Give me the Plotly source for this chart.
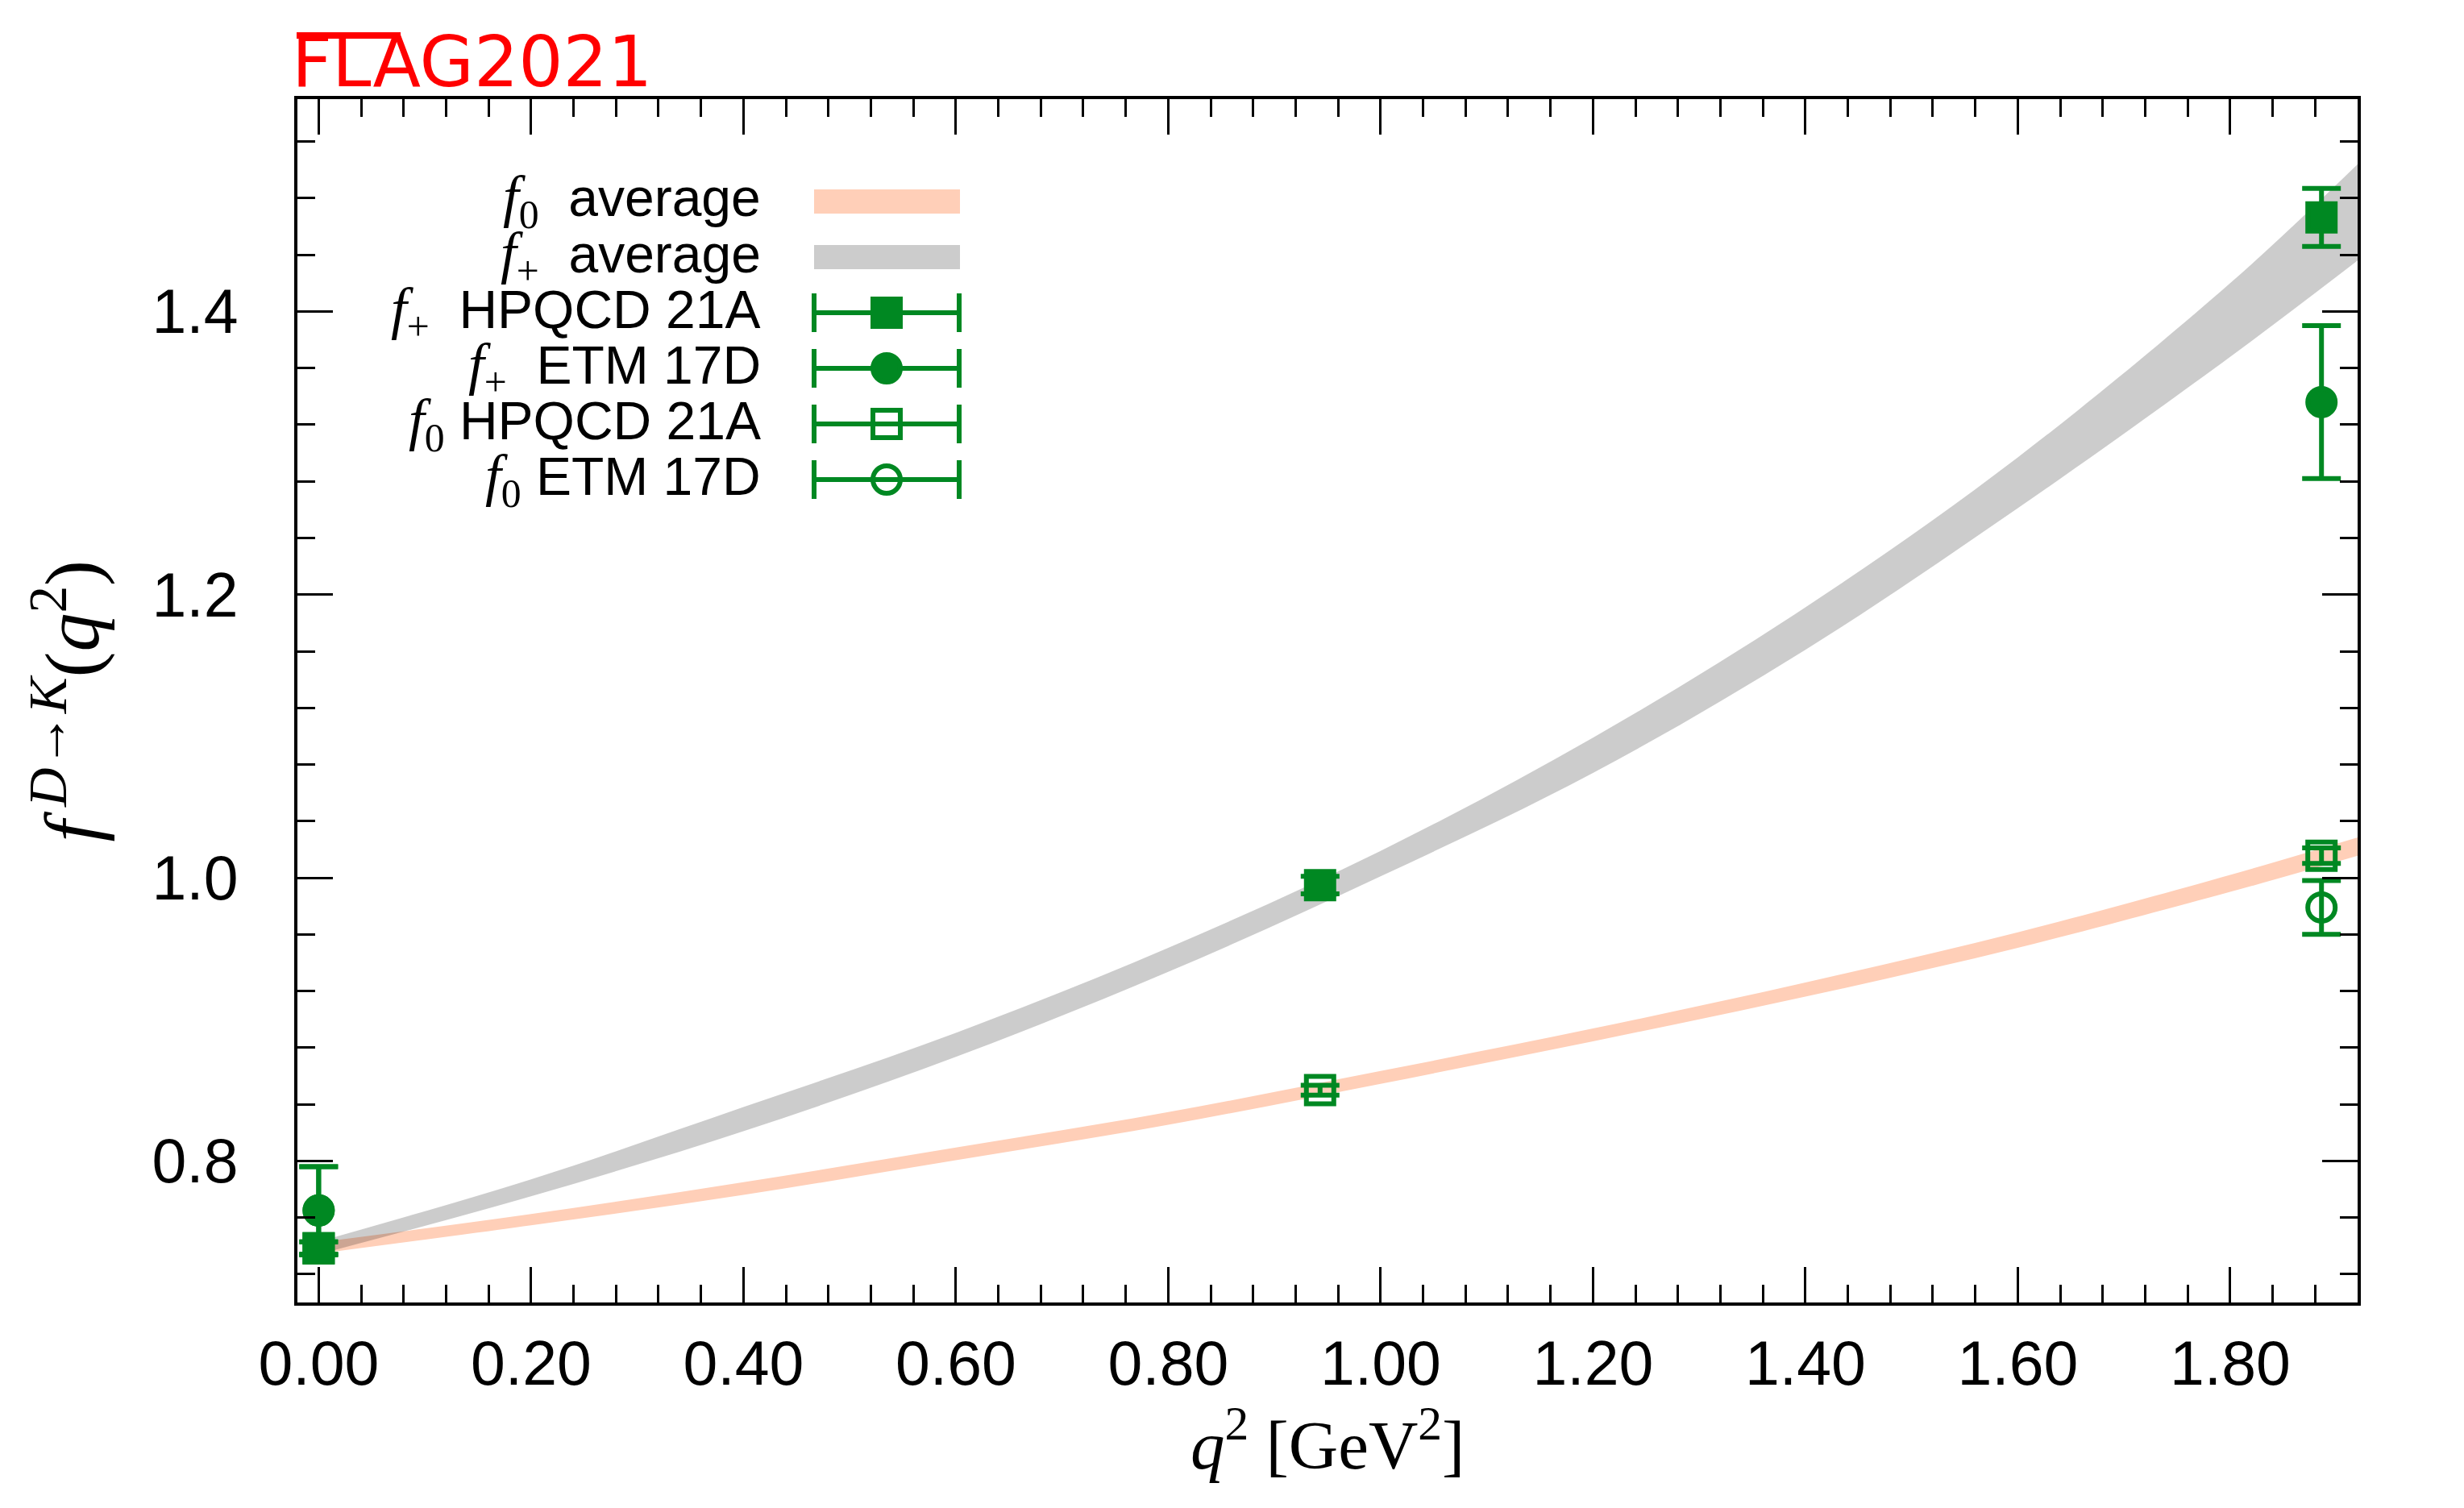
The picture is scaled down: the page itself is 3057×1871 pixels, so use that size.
import plotly.graph_objects as go

# ---------------- data ----------------
q2_band = [0.0, 0.2, 0.4, 0.6, 0.8, 1.0, 1.2, 1.4, 1.6, 1.8, 1.92]
fplus_avg_lo = [0.734, 0.775, 0.821, 0.8735, 0.9335, 1.001, 1.074, 1.161, 1.261, 1.368, 1.436]
fplus_avg_hi = [0.743, 0.787, 0.838, 0.8905, 0.9505, 1.019, 1.099, 1.191, 1.297, 1.420, 1.504]
f0_avg_lo = [0.7345, 0.7545, 0.776, 0.8005, 0.8255, 0.8545, 0.8845, 0.916, 0.9505, 0.990, 1.0155]
f0_avg_hi = [0.7425, 0.7625, 0.785, 0.8095, 0.8345, 0.8635, 0.8935, 0.926, 0.9615, 1.002, 1.0285]

q2_hpqcd = [0.0, 0.943, 1.886]
fplus_hpqcd = [0.7383, 0.9948, 1.4665]
fplus_hpqcd_err = [0.0045, 0.0062, 0.0205]
f0_hpqcd = [0.7383, 0.8500, 1.0156]
f0_hpqcd_err = [0.0045, 0.0035, 0.0055]

q2_etm = [0.0, 1.886]
fplus_etm = [0.765, 1.336]
fplus_etm_err = [0.031, 0.054]
f0_etm = [0.765, 0.979]
f0_etm_err = [0.031, 0.019]

SERIF_SPAN = "<span style=\"font-family:'Liberation Serif';font-size:71px\">"
legend_labels = [
    SERIF_SPAN + "<i>f</i><sub>0</sub></span>&nbsp; average",
    SERIF_SPAN + "<i>f</i><sub>+</sub></span>&nbsp; average",
    SERIF_SPAN + "<i>f</i><sub>+</sub></span>&nbsp; HPQCD 21A",
    SERIF_SPAN + "<i>f</i><sub>+</sub></span>&nbsp; ETM 17D",
    SERIF_SPAN + "<i>f</i><sub>0</sub></span>&nbsp;HPQCD 21A",
    SERIF_SPAN + "<i>f</i><sub>0</sub></span>&nbsp;ETM 17D",
]

# ---------------- styles / geometry ----------------
GREEN = "#008822"
SALMON = "#FFCFB8"
GREY = "rgba(0,0,0,0.2)"
OFF = 8                       # page body margin
W, H = 3057 - OFF, 1871 - OFF
# plot frame in screen pixels: left 369, right 2925, top 123, bottom 1616
L, T = 369 - OFF, 123 - OFF
R, B = W - (2925 - OFF), H - (1616 - OFF)
PW, PH = W - L - R, H - T - B


def px2x(px):   # screen px -> paper x
    return (px - OFF - L) / PW


def px2y(py):   # screen px -> paper y
    return 1 - (py - OFF - T) / PH


fig = go.Figure()

# bands
fig.add_trace(go.Scatter(x=q2_band, y=f0_avg_lo, mode="lines", line=dict(width=0, shape="spline"),
                         showlegend=False, hoverinfo="skip"))
fig.add_trace(go.Scatter(x=q2_band, y=f0_avg_hi, mode="lines", line=dict(width=0, shape="spline"),
                         fill="tonexty", fillcolor=SALMON, showlegend=False, hoverinfo="skip"))
fig.add_trace(go.Scatter(x=q2_band, y=fplus_avg_lo, mode="lines", line=dict(width=0, shape="spline"),
                         showlegend=False, hoverinfo="skip"))
fig.add_trace(go.Scatter(x=q2_band, y=fplus_avg_hi, mode="lines", line=dict(width=0, shape="spline"),
                         fill="tonexty", fillcolor=GREY, showlegend=False, hoverinfo="skip"))


def pts(x, y, err, symbol, size):
    return go.Scatter(
        x=x, y=y, mode="markers", showlegend=False,
        marker=dict(symbol=symbol, size=size, color=GREEN, line=dict(color=GREEN, width=6)),
        error_y=dict(type="data", array=err, color=GREEN, thickness=6, width=24),
    )


fig.add_trace(pts(q2_etm, f0_etm, f0_etm_err, "circle-open", 34))
fig.add_trace(pts(q2_hpqcd, f0_hpqcd, f0_hpqcd_err, "square-open", 34))
fig.add_trace(pts(q2_etm, fplus_etm, fplus_etm_err, "circle", 34))
fig.add_trace(pts(q2_hpqcd, fplus_hpqcd, fplus_hpqcd_err, "square", 34))

# ---------------- legend (manual: text left of keys, gnuplot style) ----------------
row_y = [250 + 69 * i for i in range(6)]
key_x0, key_x1, key_xc = px2x(1010), px2x(1191), px2x(1100)
text_x = px2x(946)

annotations = []
for lab, ry in zip(legend_labels, row_y):
    annotations.append(dict(x=text_x, y=px2y(ry), xref="paper", yref="paper", text=lab,
                            showarrow=False, xanchor="right", yanchor="middle",
                            font=dict(family="Liberation Sans", size=66, color="black")))

shapes = []
for ry, col in zip(row_y[:2], [SALMON, GREY]):
    shapes.append(dict(type="rect", xref="paper", yref="paper", x0=key_x0, x1=key_x1,
                       y0=px2y(ry + 15), y1=px2y(ry - 15), fillcolor=col, line=dict(width=0)))

key_syms = ["square", "circle", "square-open", "circle-open"]
for sym, ry in zip(key_syms, row_y[2:]):
    fig.add_trace(go.Scatter(
        x=[key_xc], y=[px2y(ry)], xaxis="x2", yaxis="y2", mode="markers", showlegend=False,
        marker=dict(symbol=sym, size=34, color=GREEN, line=dict(color=GREEN, width=6)),
        error_x=dict(type="constant", value=key_xc - key_x0, color=GREEN, thickness=6, width=24),
        hoverinfo="skip"))

# title FLAG2021 with overline on FLA
annotations.append(dict(x=0, y=1, xref="paper", yref="paper", text="FLAG2021", showarrow=False,
                        xanchor="left", yanchor="middle", xshift=-9, yshift=46,
                        font=dict(family="DejaVu Sans", size=87, color="#FF0000")))
shapes.append(dict(type="line", xref="paper", yref="paper", x0=px2x(368), x1=px2x(497),
                   y0=px2y(44), y1=px2y(44), line=dict(color="#FF0000", width=8)))

# axis titles
annotations.append(dict(x=0, y=0.5, xref="paper", yref="paper", showarrow=False,
                        text="<i>f</i><sup> <i>D</i>→<i>K</i></sup>(<i>q</i><sup>2</sup>)",
                        textangle=-90, xanchor="center", yanchor="middle", xshift=-(369 - 82),
                        font=dict(family="Liberation Serif", size=96, color="black")))
annotations.append(dict(x=0.5, y=0, xref="paper", yref="paper", showarrow=False,
                        text="<i>q</i><sup>2</sup> [GeV<sup>2</sup>]",
                        xanchor="center", yanchor="middle", yshift=-170,
                        font=dict(family="Liberation Serif", size=85, color="black")))

axis_common = dict(
    showline=True, linewidth=4, linecolor="black", mirror="allticks",
    ticks="inside", ticklen=44, tickwidth=3, tickcolor="black",
    showgrid=False, zeroline=False,
    tickfont=dict(family="Liberation Sans", size=77, color="black"),
)
minor_common = dict(ticks="inside", ticklen=22, tickwidth=3, tickcolor="black", tick0=0, dtick=0.04,
                    showgrid=False)

fig.update_layout(
    xaxis=dict(range=[-0.02, 1.92], tick0=0, dtick=0.2, tickformat=".2f",
               minor=minor_common, ticklabelstandoff=6, **axis_common),
    yaxis=dict(range=[0.70, 1.55], tick0=0, dtick=0.2, tickformat=".1f",
               minor=minor_common, ticklabelstandoff=54, **axis_common),
    xaxis2=dict(overlaying="x", range=[0, 1], visible=False, fixedrange=True),
    yaxis2=dict(overlaying="y", range=[0, 1], visible=False, fixedrange=True),
    width=W, height=H, margin=dict(l=L, r=R, t=T, b=B, pad=0),
    paper_bgcolor="white", plot_bgcolor="white",
    annotations=annotations, shapes=shapes, showlegend=False,
)

fig.write_html("out.html")
